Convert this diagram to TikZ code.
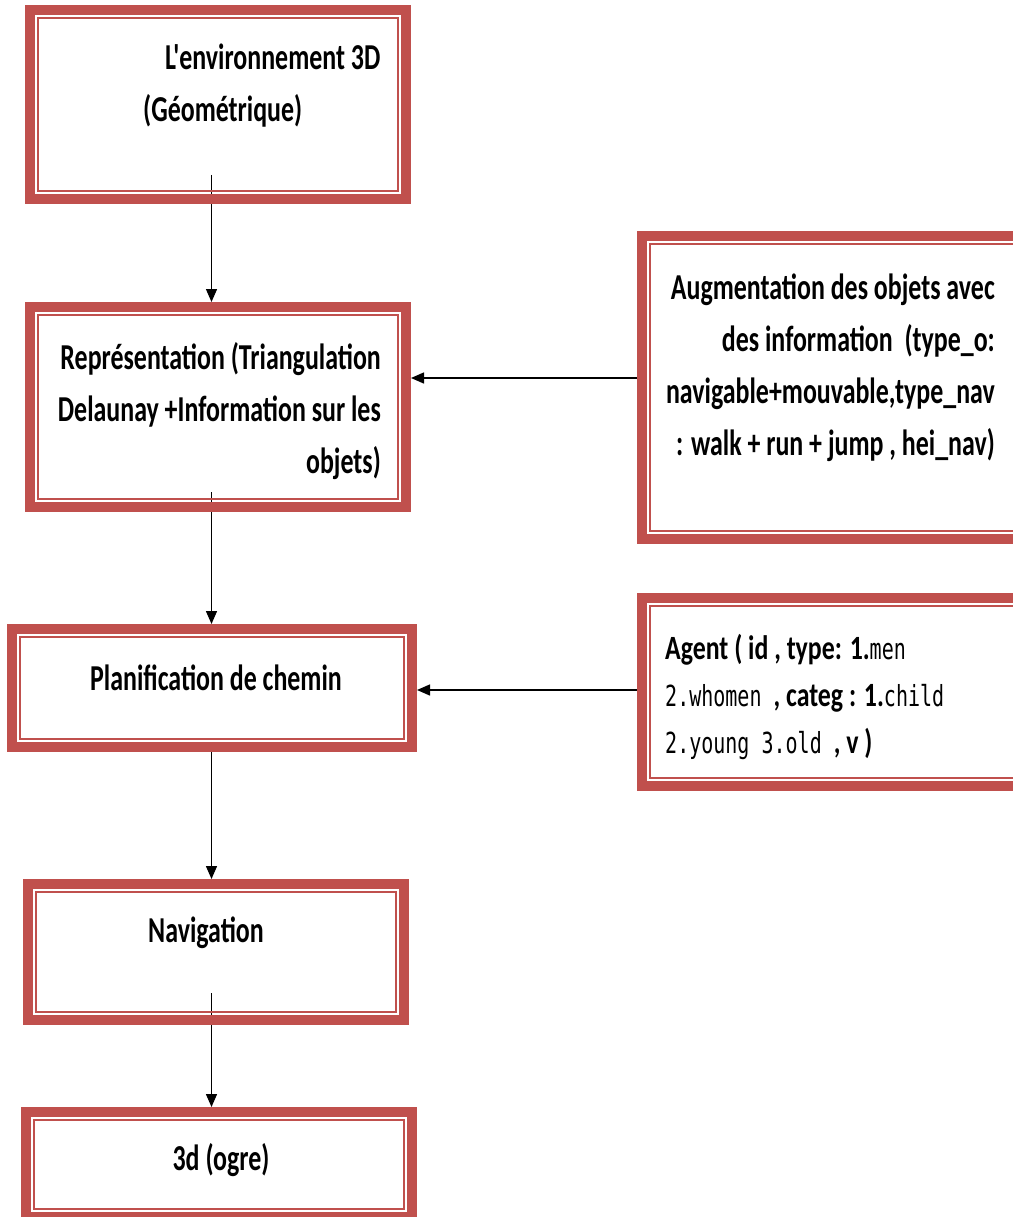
\documentclass[tikz,border=0pt]{standalone}
\usepackage{fontspec}
\usetikzlibrary{arrows.meta,fit}
\newfontfamily\boxfont{Carlito}[FakeStretch=0.71]
\newfontfamily\agentfont{Carlito}[FakeStretch=0.76]
\newfontfamily\codefont{DejaVu Sans Mono}[FakeStretch=0.69]
\newcommand\cf[1]{{\codefont\mdseries\fontsize{29}{47}\selectfont #1}}
\definecolor{boxred}{HTML}{C0504D}
\pgfdeclarelayer{paper}
\pgfdeclarelayer{bg}
\pgfsetlayers{paper,bg,main}
% framed box given by its outer corners (x1,y1) (x2,y2)
\newcommand\boxat[5]{\node[framebox, fit={(#2+5,#3+5) (#4-5,#5-5)}] (#1) {};}
\begin{document}
\begin{tikzpicture}[x=1pt,y=-1pt,
  framebox/.style={draw=boxred, line width=10pt, inner sep=0pt,
    path picture={\draw[boxred, line width=2pt]
      ([xshift=8pt,yshift=-8pt]path picture bounding box.north west) rectangle
      ([xshift=-8pt,yshift=8pt]path picture bounding box.south east);}},
  lbl/.style={font=\boxfont\bfseries\fontsize{36.5}{52}\selectfont, inner sep=0pt},
  link/.style={line width=1.4pt, -{Triangle[length=13pt,width=11pt]}}]
\begin{pgfonlayer}{paper}
\fill[white] (0,0) rectangle (1012,1217);
\end{pgfonlayer}
\useasboundingbox (0,0) rectangle (1012,1217);

% boxes
\boxat{env}{25}{5}{411}{204}
\boxat{rep}{25}{302}{411}{512}
\boxat{aug}{637}{231}{1030}{544}
\boxat{plan}{7}{624}{417}{752}
\boxat{agent}{637}{593}{1030}{791}
\boxat{nav}{23}{879}{409}{1025}
\boxat{ogre}{21}{1107}{417}{1222}

% texts
\node[lbl, align=left, anchor=west] (tenv) at (143,86)
  {\hspace*{22pt}L'environnement 3D\\(Géométrique)};
\node[lbl, align=right, anchor=east] (trep) at (381,411)
  {Représentation (Triangulation\\Delaunay +Information sur les\\objets)};
\node[lbl, align=right, anchor=east] (taug) at (995,368)
  {Augmentation des objets avec\\des information \ (type\_o:\\navigable+mouvable,type\_nav\\: walk + run + jump , hei\_nav)};
\node[lbl] (tplan) at (216,678) {Planification de chemin};
\node[lbl, align=left, anchor=west, font=\agentfont\bfseries\fontsize{34}{47}\selectfont] (tagent) at (665,697)
  {Agent ( id , type: 1.\cf{men}\\\cf{2.whomen }, categ : 1.\cf{child}\\\cf{2.young 3.old }, v )};
\node[lbl] (tnav) at (206,933) {Navigation};
\node[lbl] (togre) at (221,1160) {3d (ogre)};

% connectors, drawn beneath the frames
\begin{pgfonlayer}{bg}
\coordinate (s1) at (211.5,175);
\coordinate (s2) at (211.5,492);
\coordinate (s3) at (211.5,745);
\coordinate (s4) at (211.5,993);
\coordinate (h1) at (0,378);
\coordinate (h2) at (0,690);
\draw[link] (s1) -- (s1 |- rep.north);
\draw[link] (s2) -- (s2 |- plan.north);
\draw[link] (s3) -- (s3 |- nav.north);
\draw[link] (s4) -- (s4 |- ogre.north);
\draw[link] (aug.west |- h1) -- (rep.east |- h1);
\draw[link] (agent.west |- h2) -- (plan.east |- h2);
\end{pgfonlayer}
\end{tikzpicture}
\end{document}
